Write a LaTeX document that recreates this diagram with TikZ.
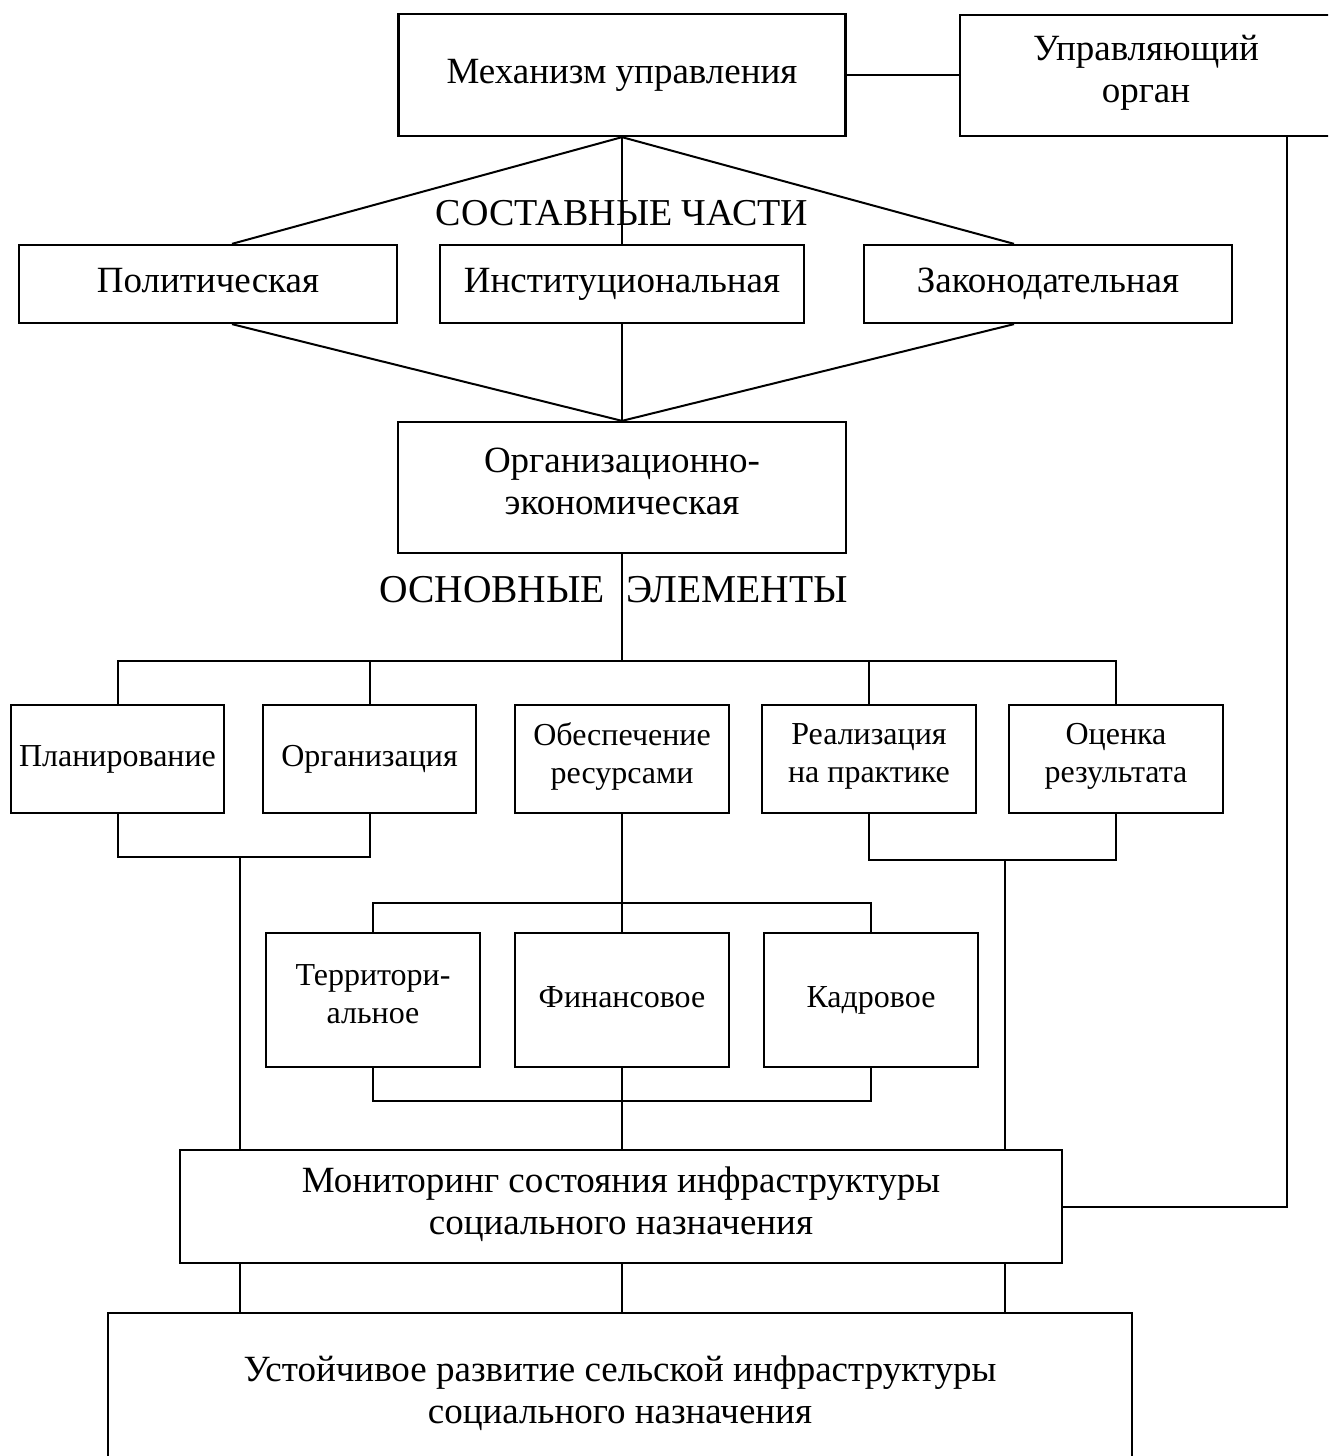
\documentclass[tikz,border=0pt]{standalone}
\usepackage{fontspec}
\setmainfont{Liberation Serif}
\usetikzlibrary{calc}
\begin{document}
\begin{tikzpicture}[x=1pt, y=-1pt, line width=2pt,
  box/.style={draw, line width=2.3pt, align=center, inner sep=0pt, font=\fontsize{37}{42}\selectfont,
    execute at begin node=\strut, execute at end node=\strut},
  sbox/.style={box, font=\fontsize{32}{38}\selectfont},
  lbl/.style={inner sep=0pt, font=\fontsize{38}{42}\selectfont}]
  \useasboundingbox (0,0) rectangle (1328,1456);
  \clip (0,0) rectangle (1328,1456);
  % top
  \node[box, minimum width=447pt, minimum height=122pt] (mech) at (622,75) {Механизм управления};
  \node[box, minimum width=372pt, minimum height=121pt] (upr) at (1146,75.5) {Управляющий\\орган};
  \draw (mech.east) -- (mech.east -| upr.west);
  % components
  \node[lbl] (sost) at (622,213) {СОСТАВНЫЕ ЧАСТИ};
  \node[box, minimum width=378pt, minimum height=78pt] (pol) at (208,284) {Политическая};
  \node[box, minimum width=364pt, minimum height=78pt] (inst) at (622,284) {Институциональная};
  \node[box, minimum width=368pt, minimum height=78pt] (zak) at (1048,284) {Законодательная};
  \node[box, minimum width=448pt, minimum height=131pt] (orgek) at (622,487.5) {Организационно-\\экономическая};
  \draw (mech.south) -- ($(pol.north)+(24,0)$);
  \draw (mech.south) -- (inst.north);
  \draw (mech.south) -- ($(zak.north)+(-34,0)$);
  \draw ($(pol.south)+(24,0)$) -- (orgek.north);
  \draw (inst.south) -- (orgek.north);
  \draw ($(zak.south)+(-34,0)$) -- (orgek.north);
  % elements
  \node[lbl, font=\fontsize{39.5}{44}\selectfont] (osn) at (613.5,590) {ОСНОВНЫЕ\hspace{12pt} ЭЛЕМЕНТЫ};
  \node[sbox, minimum width=213pt, minimum height=108pt] (plan) at (117.5,759) {Планирование};
  \node[sbox, minimum width=213pt, minimum height=108pt] (orgz) at (369.5,759) {Организация};
  \node[sbox, minimum width=214pt, minimum height=108pt] (obes) at (622,759) {Обеспечение\\ресурсами};
  \node[sbox, minimum width=214pt, minimum height=108pt] (real) at (869,759) {Реализация\\на практике};
  \node[sbox, minimum width=214pt, minimum height=108pt] (ocen) at (1116,759) {Оценка\\результата};
  \coordinate (busA) at (622,661);
  \draw (orgek.south) -- (busA);
  \draw (plan.north) |- (busA) -| (ocen.north);
  \draw (orgz.north) -- (orgz.north |- busA);
  \draw (real.north) -- (real.north |- busA);
  % resources
  \node[sbox, minimum width=214pt, minimum height=134pt] (terr) at (373,1000) {Территори-\\альное};
  \node[sbox, minimum width=214pt, minimum height=134pt] (fin) at (622,1000) {Финансовое};
  \node[sbox, minimum width=214pt, minimum height=134pt] (kadr) at (871,1000) {Кадровое};
  \coordinate (busB) at (622,903);
  \draw (obes.south) -- (busB);
  \draw (terr.north) |- (busB) -| (kadr.north);
  \draw (fin.north) -- (busB);
  \coordinate (busC) at (622,1101);
  \draw (terr.south) |- (busC) -| (kadr.south);
  % monitoring
  \node[box, minimum width=882pt, minimum height=113pt] (mon) at (621,1206.5) {Мониторинг состояния инфраструктуры\\социального назначения};
  \node[box, minimum width=1024pt, minimum height=165pt] (ust) at (620,1395.5) {Устойчивое развитие сельской инфраструктуры\\социального назначения};
  \draw (fin.south) -- (fin.south |- mon.north);
  \coordinate (jL) at (240,857);
  \draw (plan.south) |- (jL) -| (orgz.south);
  \draw (jL) -- (jL |- mon.north);
  \coordinate (jR) at (1005,860);
  \draw (real.south) |- (jR) -| (ocen.south);
  \draw (jR) -- (jR |- mon.north);
  \draw ($(upr.south)+(141,0)$) |- (mon.east);
  \foreach \x in {240,622,1005} {
    \coordinate (d) at (\x,0);
    \draw (mon.south -| d) -- (ust.north -| d);
  }
\end{tikzpicture}
\end{document}
